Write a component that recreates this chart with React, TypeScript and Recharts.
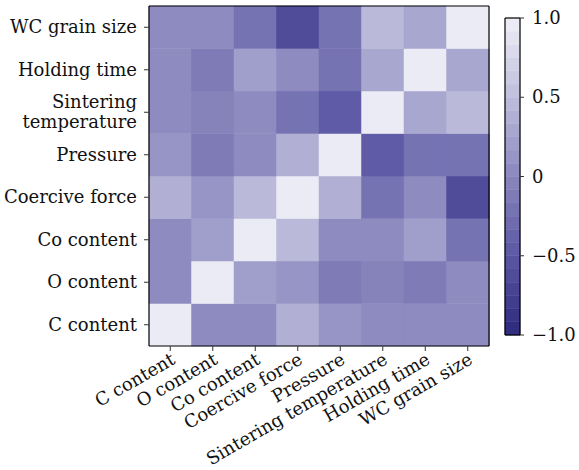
import React from 'react';
import { BarChart, Bar, Cell, XAxis, YAxis } from 'recharts';

const features = [
  'C content',
  'O content',
  'Co content',
  'Coercive force',
  'Pressure',
  'Sintering temperature',
  'Holding time',
  'WC grain size',
];

// correlation rows, columns in the same order as features (row 0 is drawn at the bottom)
const cContent = [1, 0.04, 0.04, 0.37, 0.12, 0.04, 0.04, 0.04];
const oContent = [0.04, 1, 0.2, 0.12, -0.12, -0.04, -0.12, 0.04];
const coContent = [0.04, 0.2, 1, 0.46, 0.04, 0.01, 0.2, -0.21];
const coerciveForce = [0.37, 0.12, 0.46, 1, 0.37, -0.21, 0.04, -0.62];
const pressure = [0.12, -0.12, 0.04, 0.37, 1, -0.46, -0.21, -0.21];
const sinteringTemperature = [0.04, -0.04, 0.01, -0.21, -0.46, 1, 0.29, 0.46];
const holdingTime = [0.04, -0.12, 0.2, 0.04, -0.21, 0.29, 1, 0.29];
const wcGrainSize = [0.04, 0.04, -0.21, -0.62, -0.21, 0.46, 0.29, 1];

const corr = [cContent, oContent, coContent, coerciveForce, pressure, sinteringTemperature, holdingTime, wcGrainSize];

const cbarTicks = [-1, -0.5, 0, 0.5, 1];
const cbarLevels = 24;

const FONT = '"DejaVu Serif", serif';
const TEXT = '#111';
const FS = 18;

// colormap stops, dark navy -> near white
const stops: [number, number[]][] = [
  [-1, [45, 42, 124]],
  [-0.5, [91, 87, 164]],
  [0, [138, 135, 189]],
  [0.5, [190, 189, 220]],
  [1, [239, 239, 247]],
];

function rampColor(v: number) {
  for (let k = 0; k < stops.length - 1; k++) {
    const [v0, c0] = stops[k];
    const [v1, c1] = stops[k + 1];
    if (v <= v1 || k === stops.length - 2) {
      const t = Math.max(0, Math.min(1, (v - v0) / (v1 - v0)));
      const c = c0.map((x, i) => Math.round(x + (c1[i] - x) * t));
      return `rgb(${c[0]},${c[1]},${c[2]})`;
    }
  }
  return '#000';
}

// discrete colormap: value -> color of its level centre
function levelColor(v: number) {
  const step = 2 / cbarLevels;
  const idx = Math.max(0, Math.min(cbarLevels - 1, Math.floor((v + 1) / step)));
  return rampColor(-1 + (idx + 0.5) * step);
}

const heatData = features.map((name) => {
  const row: any = { name };
  features.forEach((_, i) => {
    row[`r${i}`] = 1;
  });
  return row;
});

const cbarData = [
  (() => {
    const row: any = { name: 'cbar', base: -1 };
    for (let k = 0; k < cbarLevels; k++) row[`l${k}`] = 2 / cbarLevels;
    return row;
  })(),
];

const frameLine = { stroke: '#000', strokeWidth: 1.2 };

function XTick(props: any) {
  const { x, y, payload } = props;
  const ax = x + 6;
  const ay = y + 10;
  return (
    <text
      x={ax}
      y={ay}
      transform={`rotate(-30 ${ax} ${ay})`}
      textAnchor="end"
      fontFamily={FONT}
      fontSize={FS}
      fill={TEXT}
    >
      {payload.value}
    </text>
  );
}

function YTick(props: any) {
  const { x, y, payload } = props;
  const label = features[Math.floor(payload.value)];
  const lines = label.length > 16 ? [label.slice(0, label.indexOf(' ')), label.slice(label.indexOf(' ') + 1)] : [label];
  const lh = 20;
  const y0 = y - ((lines.length - 1) * lh) / 2 + 6;
  return (
    <text x={x} y={y0} textAnchor="end" fontFamily={FONT} fontSize={FS} fill={TEXT}>
      {lines.map((ln, i) => (
        <tspan key={i} x={x} y={y0 + i * lh}>
          {ln}
        </tspan>
      ))}
    </text>
  );
}

function CbarTick(props: any) {
  const { x, y, payload } = props;
  const v = payload.value;
  const s = v === 0 ? '0' : (v < 0 ? '\u2212' : '') + Math.abs(v).toFixed(1);
  return (
    <text x={x} y={y + 6} textAnchor="start" fontFamily={FONT} fontSize={FS} fill={TEXT}>
      {s}
    </text>
  );
}

export default function App() {
  return (
    <div style={{ position: 'relative', width: 579, height: 470, background: '#fff' }}>
      <style>{'body{margin:0;background:#fff}'}</style>
      <div style={{ position: 'absolute', left: 0, top: 0 }}>
        <BarChart
          width={579}
          height={470}
          data={heatData}
          margin={{ top: 5, right: 89, bottom: 0, left: 0 }}
          barCategoryGap={0}
          barGap={0}
        >
          {features.map((_, i) => (
            <Bar key={i} dataKey={`r${i}`} stackId="cells" isAnimationActive={false}>
              {features.map((__, j) => {
                const c = levelColor(corr[i][j]);
                return <Cell key={j} fill={c} stroke={c} strokeWidth={0.5} />;
              })}
            </Bar>
          ))}
          <XAxis
            dataKey="name"
            type="category"
            height={124}
            interval={0}
            tick={<XTick />}
            tickSize={5}
            tickLine={{ stroke: '#333' }}
            axisLine={frameLine}
          />
          <XAxis xAxisId="top" dataKey="name" orientation="top" height={1} tick={false} tickLine={false} axisLine={frameLine} />
          <YAxis
            type="number"
            domain={[0, features.length]}
            ticks={features.map((_, i) => i + 0.5)}
            width={149}
            interval={0}
            tick={<YTick />}
            tickSize={5}
            tickMargin={7}
            tickLine={{ stroke: '#333' }}
            axisLine={frameLine}
          />
          <YAxis
            yAxisId="right"
            orientation="right"
            type="number"
            domain={[0, features.length]}
            width={1}
            tick={false}
            tickLine={false}
            axisLine={frameLine}
          />
        </BarChart>
      </div>
      <div style={{ position: 'absolute', left: 490, top: 0 }}>
        <BarChart
          width={89}
          height={470}
          data={cbarData}
          margin={{ top: 17, right: 0, bottom: 134, left: 14 }}
          barCategoryGap={0}
          barGap={0}
        >
          <Bar dataKey="base" stackId="cb" fill="transparent" isAnimationActive={false} />
          {Array.from({ length: cbarLevels }, (_, k) => {
            const c = levelColor(-1 + (k + 0.5) * (2 / cbarLevels));
            return (
              <Bar key={k} dataKey={`l${k}`} stackId="cb" fill={c} stroke={c} strokeWidth={0.5} isAnimationActive={false} />
            );
          })}
          <XAxis dataKey="name" height={1} tick={false} tickLine={false} axisLine={frameLine} />
          <XAxis xAxisId="top" dataKey="name" orientation="top" height={1} tick={false} tickLine={false} axisLine={frameLine} />
          <YAxis
            orientation="right"
            type="number"
            domain={[-1, 1]}
            ticks={cbarTicks}
            width={59}
            interval={0}
            tick={<CbarTick />}
            tickSize={4}
            tickMargin={8}
            tickLine={{ stroke: '#333' }}
            axisLine={frameLine}
          />
          <YAxis
            yAxisId="left"
            orientation="left"
            type="number"
            domain={[-1, 1]}
            width={1}
            tick={false}
            tickLine={false}
            axisLine={frameLine}
          />
        </BarChart>
      </div>
    </div>
  );
}
